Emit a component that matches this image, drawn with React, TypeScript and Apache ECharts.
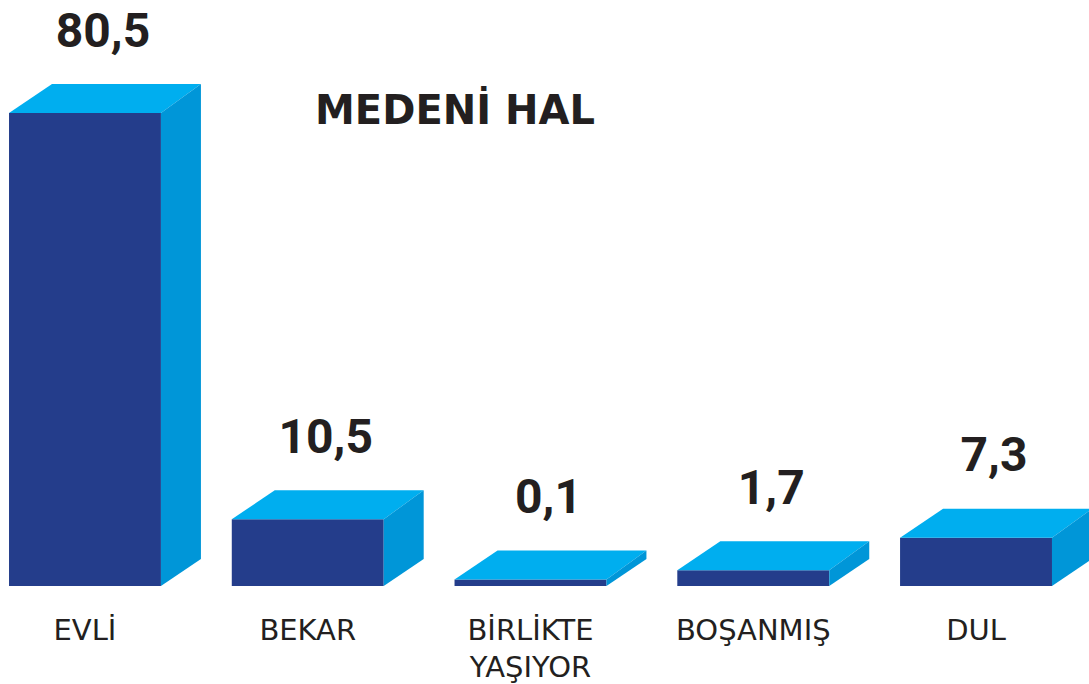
import React, { useEffect, useRef } from "react";
import * as echarts from "echarts";

const categories = ["EVLİ", "BEKAR", "BİRLİKTE\nYAŞIYOR", "BOŞANMIŞ", "DUL"];
const values = [80.5, 10.5, 0.1, 1.7, 7.3];
const chartTitle = "MEDENİ HAL";

const FRONT = "#243d8b";
const TOP = "#00aeef";
const SIDE = "#0096d8";
const BASE_VALUE = -1;

export default function App() {
  const ref = useRef<HTMLDivElement>(null);
  useEffect(() => {
    document.body.style.margin = "0";
    const chart = echarts.init(ref.current!, null, { renderer: "svg" });
    const option: any = {
      animation: false,
      backgroundColor: "#ffffff",
      grid: { left: -26.4, right: 1.6, top: 113, bottom: 98, outerBoundsMode: "none", containLabel: false },
      xAxis: {
        type: "category",
        data: categories,
        axisLine: { show: false },
        axisTick: { show: false },
        splitLine: { show: false },
        axisLabel: {
          interval: 0,
          margin: 25,
          fontSize: 29,
          lineHeight: 37,
          fontFamily: "DejaVu Sans",
          color: "#231f20",
        },
      },
      yAxis: {
        type: "value",
        min: BASE_VALUE,
        max: 80.5,
        show: false,
        splitLine: { show: false },
      },
      graphic: [
        {
          type: "text",
          x: 455,
          y: 110,
          style: {
            text: chartTitle,
            fontSize: 40,
            fontWeight: "bold",
            fontFamily: "DejaVu Sans",
            fill: "#231f20",
            align: "center",
            verticalAlign: "middle",
          },
        },
      ],
      series: [
        {
          type: "custom",
          clip: false,
          data: values.map((v, i) => [i, v]),
          encode: { x: 0, y: 1 },
          renderItem: (params: any, api: any) => {
            const idx = api.value(0);
            const v = api.value(1);
            const top = api.coord([idx, v]);
            const base = api.coord([idx, BASE_VALUE]);
            const band = api.size([1, 0])[0];
            const w = band * 0.682;
            const xl = top[0] - w / 2;
            const xr = top[0] + w / 2;
            const yt = top[1];
            const yb = base[1];
            const label = v.toFixed(1).replace(".", ",");
            return {
              type: "group",
              children: [
                {
                  type: "rect",
                  shape: { x: xl, y: yt, width: w, height: yb - yt },
                  style: { fill: FRONT },
                },
                {
                  type: "polygon",
                  shape: {
                    points: [
                      [xl, yt],
                      [xl + 43, yt - 29],
                      [xr + 40, yt - 29],
                      [xr, yt],
                    ],
                  },
                  style: { fill: TOP },
                },
                {
                  type: "polygon",
                  shape: {
                    points: [
                      [xr, yt],
                      [xr + 40, yt - 29],
                      [xr + 40, yb - 27],
                      [xr, yb],
                    ],
                  },
                  style: { fill: SIDE },
                },
                {
                  type: "text",
                  x: top[0] + 18,
                  y: yt - 83,
                  style: {
                    text: label,
                    fontSize: 48,
                    fontWeight: "bold",
                    fontFamily: "Roboto",
                    fill: "#231f20",
                    align: "center",
                    verticalAlign: "middle",
                  },
                },
              ],
            };
          },
        },
      ],
    };
    chart.setOption(option);
    return () => chart.dispose();
  }, []);
  return <div ref={ref} style={{ width: 1089, height: 684 }} />;
}
